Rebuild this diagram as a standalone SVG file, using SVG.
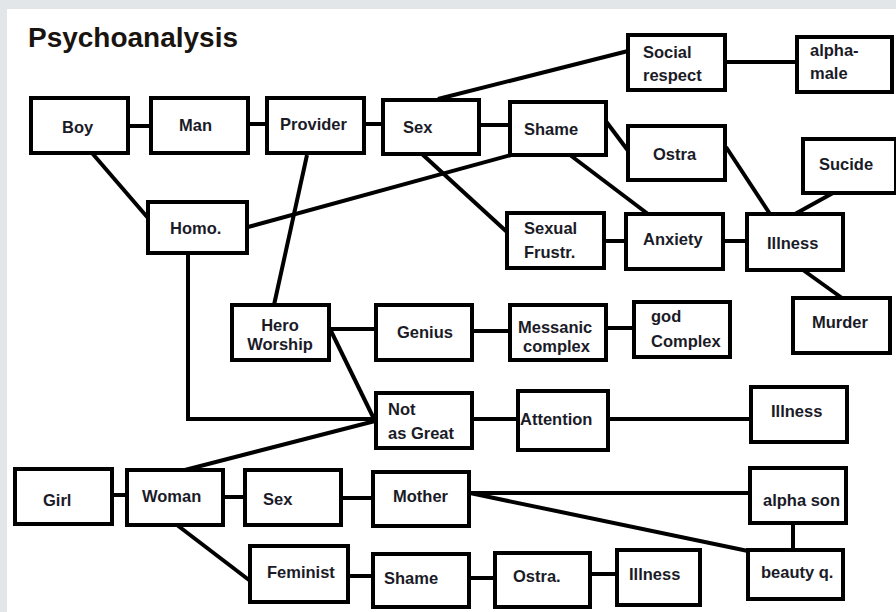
<svg xmlns="http://www.w3.org/2000/svg" width="896" height="612" viewBox="0 0 896 612">
<style>
.bg{fill:#e3e6e8}
.box{fill:#fff;stroke:#000;stroke-width:4}
.t{font-family:"Liberation Sans",Arial,sans-serif;font-weight:bold;font-size:16.5px;fill:#1b1b28}
.title{font-family:"Liberation Sans",Arial,sans-serif;font-weight:bold;font-size:27px;fill:#1a1410}
#connectors line,#connectors polyline{stroke:#000;stroke-width:4;fill:none}
</style>
<rect x="0" y="0" width="896" height="612" class="bg"/>
<rect x="7" y="9" width="889" height="603" fill="#fff"/>
<text class="title" x="28" y="47" textLength="210" lengthAdjust="spacingAndGlyphs">Psychoanalysis</text>
<g id="connectors">
<line x1="128" y1="126" x2="151" y2="126"/>
<line x1="248" y1="124" x2="267" y2="124"/>
<line x1="365" y1="124" x2="383" y2="124"/>
<line x1="479" y1="125" x2="510" y2="125"/>
<line x1="438" y1="99" x2="628" y2="51"/>
<line x1="726" y1="62" x2="797" y2="62"/>
<line x1="605" y1="120" x2="629" y2="152"/>
<line x1="726" y1="147" x2="770" y2="214"/>
<line x1="833" y1="193" x2="795" y2="214"/>
<line x1="803" y1="270" x2="842" y2="298"/>
<line x1="723" y1="241" x2="747" y2="241"/>
<line x1="604" y1="241" x2="626" y2="241"/>
<line x1="570" y1="155" x2="648" y2="214"/>
<line x1="422" y1="154" x2="507" y2="232"/>
<line x1="511" y1="155" x2="248" y2="227"/>
<line x1="92" y1="153" x2="148" y2="218"/>
<line x1="307" y1="155" x2="274" y2="305"/>
<polyline points="188,253 188,419 376,419"/>
<line x1="329" y1="329" x2="376" y2="329"/>
<line x1="472" y1="331" x2="510" y2="331"/>
<line x1="606" y1="328" x2="634" y2="328"/>
<line x1="331" y1="331" x2="375" y2="421"/>
<line x1="375" y1="421" x2="181" y2="471"/>
<line x1="472" y1="419" x2="517" y2="419"/>
<line x1="608" y1="419" x2="751" y2="419"/>
<line x1="112" y1="495" x2="127" y2="495"/>
<line x1="223" y1="497" x2="245" y2="497"/>
<line x1="341" y1="498" x2="373" y2="498"/>
<line x1="469" y1="493" x2="750" y2="493"/>
<line x1="470" y1="493" x2="748" y2="551"/>
<line x1="793" y1="523" x2="793" y2="550"/>
<line x1="177" y1="525" x2="249" y2="580"/>
<line x1="348" y1="576" x2="373" y2="576"/>
<line x1="470" y1="578" x2="495" y2="578"/>
<line x1="590" y1="574" x2="617" y2="574"/>
</g>
<g id="boy"><rect class="box" x="31" y="98" width="97" height="55"/><text class="t" x="62" y="133">Boy</text></g>
<g id="man"><rect class="box" x="151" y="98" width="97" height="55"/><text class="t" x="179" y="131">Man</text></g>
<g id="provider"><rect class="box" x="267" y="98" width="97" height="55"/><text class="t" x="280" y="130">Provider</text></g>
<g id="sex1"><rect class="box" x="383" y="100" width="96" height="54"/><text class="t" x="403" y="133">Sex</text></g>
<g id="shame1"><rect class="box" x="510" y="102" width="96" height="53"/><text class="t" x="524" y="135">Shame</text></g>
<g id="social"><rect class="box" x="628" y="35" width="97" height="55"/><text class="t" x="643" y="58">Social</text><text class="t" x="643" y="81">respect</text></g>
<g id="alphamale"><rect class="box" x="797" y="37" width="95" height="55"/><text class="t" x="810" y="56">alpha-</text><text class="t" x="810" y="79">male</text></g>
<g id="ostra1"><rect class="box" x="628" y="126" width="97" height="54"/><text class="t" x="653" y="160">Ostra</text></g>
<g id="sucide"><rect class="box" x="803" y="139" width="93" height="54"/><text class="t" x="819" y="170">Sucide</text></g>
<g id="homo"><rect class="box" x="148" y="202" width="99" height="51"/><text class="t" x="170" y="234">Homo.</text></g>
<g id="frustr"><rect class="box" x="507" y="213" width="97" height="55"/><text class="t" x="524" y="234">Sexual</text><text class="t" x="524" y="258">Frustr.</text></g>
<g id="anxiety"><rect class="box" x="626" y="214" width="97" height="55"/><text class="t" x="643" y="245">Anxiety</text></g>
<g id="illness1"><rect class="box" x="747" y="214" width="96" height="56"/><text class="t" x="767" y="249">Illness</text></g>
<g id="murder"><rect class="box" x="793" y="298" width="97" height="55"/><text class="t" x="812" y="328">Murder</text></g>
<g id="hero"><rect class="box" x="232" y="305" width="97" height="55"/><text class="t" x="280" y="331" text-anchor="middle">Hero</text><text class="t" x="280" y="350" text-anchor="middle">Worship</text></g>
<g id="genius"><rect class="box" x="376" y="305" width="96" height="55"/><text class="t" x="397" y="338">Genius</text></g>
<g id="messanic"><rect class="box" x="510" y="305" width="96" height="55"/><text class="t" x="518" y="333">Messanic</text><text class="t" x="523" y="352">complex</text></g>
<g id="god"><rect class="box" x="634" y="302" width="96" height="55"/><text class="t" x="651" y="322">god</text><text class="t" x="651" y="347">Complex</text></g>
<g id="notgreat"><rect class="box" x="376" y="393" width="96" height="55"/><text class="t" x="388" y="415">Not</text><text class="t" x="388" y="439">as Great</text></g>
<g id="attention"><rect class="box" x="518" y="391" width="90" height="59"/><text class="t" x="520" y="425">Attention</text></g>
<g id="illness2"><rect class="box" x="751" y="387" width="96" height="55"/><text class="t" x="771" y="417">Illness</text></g>
<g id="girl"><rect class="box" x="15" y="469" width="97" height="55"/><text class="t" x="43" y="506">Girl</text></g>
<g id="woman"><rect class="box" x="127" y="470" width="96" height="55"/><text class="t" x="142" y="502">Woman</text></g>
<g id="sex2"><rect class="box" x="245" y="470" width="96" height="55"/><text class="t" x="263" y="505">Sex</text></g>
<g id="mother"><rect class="box" x="373" y="472" width="96" height="54"/><text class="t" x="393" y="502">Mother</text></g>
<g id="alphason"><rect class="box" x="750" y="468" width="96" height="55"/><text class="t" x="763" y="506">alpha son</text></g>
<g id="beauty"><rect class="box" x="748" y="550" width="95" height="49"/><text class="t" x="761" y="578">beauty q.</text></g>
<g id="feminist"><rect class="box" x="250" y="546" width="98" height="56"/><text class="t" x="267" y="578">Feminist</text></g>
<g id="shame2"><rect class="box" x="373" y="554" width="96" height="53"/><text class="t" x="384" y="584">Shame</text></g>
<g id="ostra2"><rect class="box" x="495" y="553" width="95" height="54"/><text class="t" x="513" y="582">Ostra.</text></g>
<g id="illness3"><rect class="box" x="617" y="550" width="83" height="55"/><text class="t" x="629" y="580">Illness</text></g>
</svg>
